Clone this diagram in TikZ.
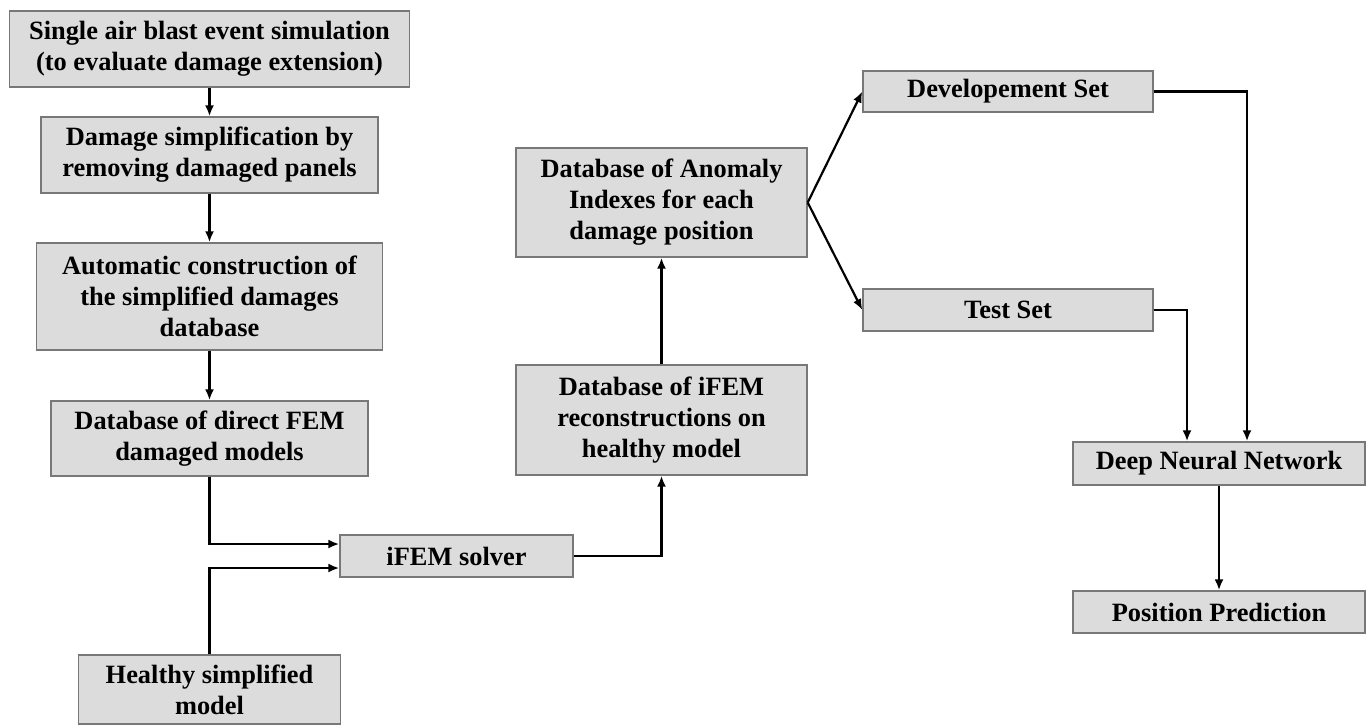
\documentclass[tikz,border=0pt]{standalone}
\usepackage{fontspec}
\setmainfont{Liberation Serif}
\usepackage{xcolor}
\usepackage{tikz}
\definecolor{boxgray}{RGB}{220,220,220}
\definecolor{edgegray}{RGB}{120,120,120}
\usetikzlibrary{arrows.meta}

\tikzset{
	stage/.style={draw=edgegray, line width=0.7pt, fill=boxgray, align=center, inner sep=2pt,
		font=\fontsize{13.2}{15.5}\selectfont\bfseries},
	flow/.style={line width=1.1pt, ->, >={Latex[length=5.5pt,width=4.5pt]}}
}

\begin{document}
\begin{tikzpicture}[x=0.5pt, y=-0.5pt]
			\fill[white] (0,0) rectangle (1370,725);
			\useasboundingbox (0,0) rectangle (1370,725);
			
			% left column
			\node[stage, minimum width=200pt, minimum height=38pt] (blast) at (209.5,49) {Single air blast event simulation\\(to evaluate damage extension)};
			\node[stage, minimum width=168.5pt, minimum height=38pt] (simp) at (209.5,155) {Damage simplification by\\removing damaged panels};
			\node[stage, minimum width=173pt, minimum height=53.5pt] (auto) at (209.5,296.5) {Automatic construction of\\the simplified damages\\database};
			\node[stage, minimum width=158.5pt, minimum height=37.5pt] (dbfem) at (209.5,438.5) {Database of direct FEM\\damaged models};
			\node[stage, minimum width=131pt, minimum height=34.5pt] (healthy) at (209.5,689.5) {Healthy simplified\\model};
			
			% middle
			\node[stage, minimum width=116.5pt, minimum height=21pt] (solver) at (456.5,556) {iFEM solver};
			\node[stage, minimum width=145.5pt, minimum height=55pt] (dbifem) at (661.5,420) {Database of iFEM\\reconstructions on\\healthy model};
			\node[stage, minimum width=145.5pt, minimum height=54.5pt] (anomaly) at (661.5,202.5) {Database of Anomaly\\Indexes for each\\damage position};
			
			% right
			\node[stage, minimum width=145pt, minimum height=20.5pt] (devset) at (1008,91.5) {Developement Set};
			\node[stage, minimum width=145pt, minimum height=21pt] (testset) at (1008,310) {Test Set};
			\node[stage, minimum width=146pt, minimum height=21.5pt] (dnn) at (1219,463.5) {Deep Neural Network};
			\node[stage, minimum width=146pt, minimum height=21pt] (predict) at (1219,612) {Position Prediction};
			
			\draw[flow] (blast) -- (simp);
			\draw[flow] (simp) -- (auto);
			\draw[flow] (auto) -- (dbfem);
			\draw[flow] (dbfem.south) |- ([yshift=6pt]solver.west);
			\draw[flow] (healthy.north) |- ([yshift=-6pt]solver.west);
			\draw[flow] (solver.east) -| (dbifem.south);
			\draw[flow] (dbifem) -- (anomaly);
			
			\draw[flow] (anomaly.east) -- (devset.west);
			\draw[flow] (anomaly.east) -- (testset.west);
			\draw[flow] (devset.east) -| ([xshift=14pt]dnn.north);
			\draw[flow] (testset.east) -| ([xshift=-16pt]dnn.north);
			\draw[flow] (dnn) -- (predict);
			
\end{tikzpicture}
\end{document}
